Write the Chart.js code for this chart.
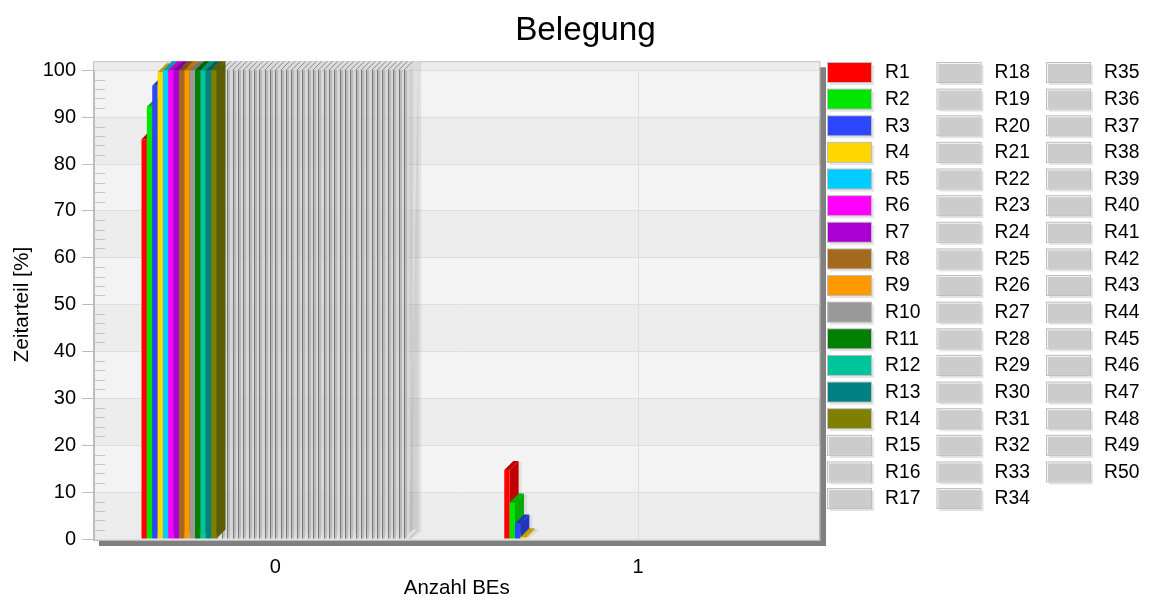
<!DOCTYPE html>
<html>
<head>
<meta charset="utf-8">
<title>Belegung</title>
<script src="https://cdn.jsdelivr.net/npm/chart.js@4/dist/chart.umd.min.js"></script>
<style>
  html, body { margin: 0; padding: 0; background: #fff; overflow: hidden; }
  canvas { display: block; }
</style>
</head>
<body>
<canvas id="belegung" width="1151" height="601"></canvas>
<script>
const categories = ['0', '1'];
const seriesNames = Array.from({ length: 50 }, (_, i) => 'R' + (i + 1));
const shareAtZero = [
  85.3, 92.2, 96.7, 99.6, 100, 100, 100, 100, 100, 100,
  100, 100, 100, 100, 100, 100, 100, 100, 100, 100,
  100, 100, 100, 100, 100, 100, 100, 100, 100, 100,
  100, 100, 100, 100, 100, 100, 100, 100, 100, 100,
  100, 100, 100, 100, 100, 100, 100, 100, 100, 100
];
const shareAtOne = [
  14.7, 7.8, 3.3, 0.4, 0, 0, 0, 0, 0, 0,
  0, 0, 0, 0, 0, 0, 0, 0, 0, 0,
  0, 0, 0, 0, 0, 0, 0, 0, 0, 0,
  0, 0, 0, 0, 0, 0, 0, 0, 0, 0,
  0, 0, 0, 0, 0, 0, 0, 0, 0, 0
];
const fronts = ['#ff0000', '#00e600', '#2d46ff', '#ffd700', '#00ccff', '#ff00ff', '#aa00d4',
  '#a36a1f', '#ff9900', '#999999', '#008000', '#00c49a', '#008080', '#808000'];
const sides = ['#c00000', '#00ac00', '#2234bf', '#bfa100', '#0099bf', '#bf00bf', '#80009f',
  '#7a5017', '#bf7300', '#737373', '#006000', '#009373', '#006060', '#5c5c00'];
const greyFront = 'rgba(214,214,214,0.7)';
const greySide = 'rgba(120,120,120,0.15)';
const FONT = '"Liberation Sans", Arial, sans-serif';
const DEPTH = 9;

function quad(ctx, pts, fill) {
  ctx.beginPath();
  pts.forEach(([x, y], i) => (i ? ctx.lineTo(x, y) : ctx.moveTo(x, y)));
  ctx.closePath();
  ctx.fillStyle = fill;
  ctx.fill();
}

function segment(ctx, x0, y0, x1, y1, color, width = 1) {
  ctx.strokeStyle = color;
  ctx.lineWidth = width;
  ctx.beginPath();
  ctx.moveTo(x0, y0);
  ctx.lineTo(x1, y1);
  ctx.stroke();
}

// back wall, frame and the heavy drop shadow behind it
const wallPlugin = {
  id: 'wall',
  beforeDraw(chart) {
    const { ctx, chartArea: a, scales: { y } } = chart;
    const top = a.top - 8, bottom = a.bottom + 1;
    ctx.save();
    ctx.fillStyle = '#808080';
    ctx.fillRect(a.left + 5, top + 5, a.right - a.left + 1.5, bottom - top + 1);
    ctx.fillStyle = '#ececec';
    ctx.fillRect(a.left, top, a.right - a.left, bottom - top);
    ctx.fillStyle = '#f3f3f3';
    for (let v = 10; v < 100; v += 20) {
      ctx.fillRect(a.left, y.getPixelForValue(v + 10), a.right - a.left, y.getPixelForValue(v) - y.getPixelForValue(v + 10));
    }
    ctx.strokeStyle = '#bdbdbd';
    ctx.lineWidth = 1;
    ctx.strokeRect(a.left - 0.5, top - 0.5, a.right - a.left + 1, bottom - top + 1);
    ctx.restore();
  },
  // minor ticks sit inside the wall, every 2 units
  afterDraw(chart) {
    const { ctx, chartArea: a, scales: { y } } = chart;
    ctx.save();
    for (let v = 2; v < 100; v += 2) {
      if (v % 10 === 0) continue;
      const py = Math.round(y.getPixelForValue(v)) + 0.5;
      segment(ctx, a.left, py, a.left + 11, py, '#c4c4c4');
    }
    ctx.restore();
  }
};

function drawBar(ctx, bar, i, k) {
  const l = bar.x - bar.width / 2, r = bar.x + bar.width / 2;
  const t = bar.y, b = bar.base;
  const coloured = i < fronts.length;
  if (coloured ? k === 1 : i === seriesNames.length - 1) {
    quad(ctx, [[r + DEPTH, t - DEPTH + 1], [r + DEPTH + 3, t - DEPTH + 1], [r + DEPTH + 3, b - DEPTH + 2], [r + 3, b], [r, b]], 'rgba(0,0,0,0.07)');
  }
  if (!coloured) {
    quad(ctx, [[l, b], [r, b], [r + DEPTH, b - DEPTH], [l + DEPTH, b - DEPTH]], '#f6f6f6');
    segment(ctx, r, b, r + DEPTH, b - DEPTH, '#b0b0b0');
  }
  quad(ctx, [[r, t], [r + DEPTH, t - DEPTH], [r + DEPTH, b - DEPTH], [r, b]], coloured ? sides[i] : greySide);
  quad(ctx, [[l, t], [r, t], [r + DEPTH, t - DEPTH], [l + DEPTH, t - DEPTH]], coloured ? sides[i] : '#dcdcdc');
  if (!coloured) segment(ctx, l, t, l + DEPTH, t - DEPTH, '#8a8a8a');
  bar.draw(ctx);
  if (!coloured) {
    // dark edge plus a softer band give the pale columns their ribbing
    const edge = Math.round(l) + 0.5;
    segment(ctx, edge, t, edge, b, 'rgba(105,105,105,0.85)');
    segment(ctx, edge + 1.5, t, edge + 1.5, b, 'rgba(90,90,90,0.22)', 2);
  }
}

// the pale columns go down first so the last coloured side face stays on top of them
const depthPlugin = {
  id: 'depth',
  beforeDatasetsDraw(chart) {
    const { ctx } = chart;
    const order = chart.data.datasets.map((_, i) => i);
    const paintOrder = [...order.slice(fronts.length), ...order.slice(0, fronts.length)];
    ctx.save();
    paintOrder.forEach((i) => {
      chart.getDatasetMeta(i).data.forEach((bar, k) => {
        if (chart.data.datasets[i].data[k] > 0) drawBar(ctx, bar, i, k);
      });
    });
    ctx.restore();
    return false;
  }
};

// three fixed columns of swatches next to the plot
const legendPlugin = {
  id: 'swatches',
  afterDraw(chart) {
    const { ctx } = chart;
    ctx.save();
    ctx.font = '19.3px ' + FONT;
    ctx.textBaseline = 'middle';
    seriesNames.forEach((name, i) => {
      const col = i < 17 ? 0 : i < 34 ? 1 : 2;
      const row = i < 17 ? i : i < 34 ? i - 17 : i - 34;
      const x = 828 + col * 109.5, y = 63 + row * 26.63;
      ctx.fillStyle = '#e4e4e4';
      ctx.fillRect(x + 2, y + 2, 44, 20);
      ctx.fillStyle = '#bdbdbd';
      ctx.fillRect(x - 1, y - 1, 45, 21);
      if (i < fronts.length) {
        ctx.fillStyle = fronts[i];
        ctx.fillRect(x, y, 43, 19);
      } else {
        ctx.fillStyle = '#f4f4f4';
        ctx.fillRect(x, y, 43, 19);
        ctx.fillStyle = '#cccccc';
        ctx.fillRect(x + 1, y + 1, 42, 18);
      }
      ctx.fillStyle = '#000';
      ctx.fillText(name, x + 57, y + 10);
    });
    ctx.restore();
  }
};

new Chart(document.getElementById('belegung'), {
  type: 'bar',
  data: {
    labels: categories,
    datasets: seriesNames.map((name, i) => ({
      label: name,
      data: [shareAtZero[i], shareAtOne[i]],
      backgroundColor: i < fronts.length ? fronts[i] : greyFront,
      borderWidth: 0
    }))
  },
  plugins: [wallPlugin, depthPlugin, legendPlugin, {
    id: 'titleShift',
    afterLayout(chart) {
      // the heading is centred a little right of the canvas middle
      chart.titleBlock.left = 20;
      chart.titleBlock.right = 1151;
    }
  }],
  options: {
    responsive: false,
    animation: false,
    events: [],
    layout: { padding: { right: 331.5 } },
    datasets: { bar: { categoryPercentage: 0.738, barPercentage: 1 } },
    plugins: {
      legend: { display: false },
      tooltip: { enabled: false },
      title: {
        display: true,
        text: 'Belegung',
        color: '#000',
        font: { family: FONT, size: 33.3, weight: 'normal', lineHeight: 1.2 },
        padding: { top: 10.5, bottom: 19.8 }
      }
    },
    scales: {
      x: {
        afterFit(scale) { scale.height = 62; },
        grid: { offset: false, color: '#dedede', drawTicks: false },
        border: { display: false },
        ticks: { color: '#000', padding: 16, font: { family: FONT, size: 20 } },
        title: { display: true, text: 'Anzahl BEs', color: '#000', padding: { top: 7, bottom: 0 }, font: { family: FONT, size: 20.5 } }
      },
      y: {
        min: 0,
        max: 100,
        afterFit(scale) { scale.width = 94; },
        grid: { color: '#dedede', tickColor: '#bdbdbd', tickLength: 12 },
        border: { color: '#bdbdbd' },
        ticks: { stepSize: 10, color: '#000', padding: 6, font: { family: FONT, size: 20 } },
        title: { display: true, text: 'Zeitarteil [%]', color: '#000', padding: { top: 10, bottom: 0 }, font: { family: FONT, size: 20.8 } }
      }
    }
  }
});
</script>
</body>
</html>
